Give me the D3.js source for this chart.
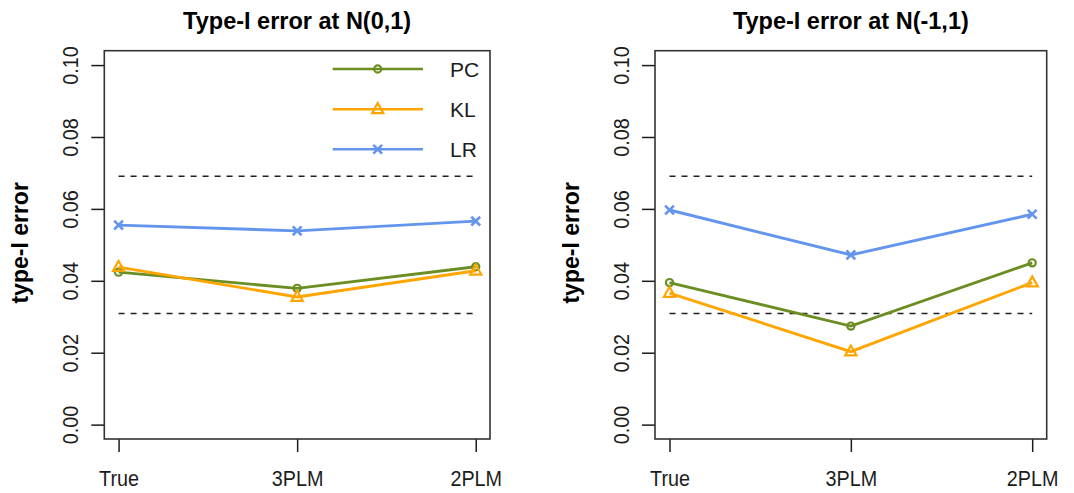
<!DOCTYPE html>
<html>
<head>
<meta charset="utf-8">
<script src="https://cdn.jsdelivr.net/npm/d3@7"></script>
<style>
  html, body { margin: 0; padding: 0; background: #fff; }
  svg { display: block; font-family: Arial, "Liberation Sans", sans-serif; }
</style>
</head>
<body>
<svg id="chart" width="1074" height="493"></svg>
<script>
// Estimating methods evaluated under three fitted models
const categories = ["True", "3PLM", "2PLM"];

// Type-I error under N(0,1)
const pcN01 = [0.0424, 0.0379, 0.0439];
const klN01 = [0.0438, 0.0355, 0.0428];
const lrN01 = [0.0555, 0.0539, 0.0566];

// Type-I error under N(-1,1)
const pcNm1 = [0.0395, 0.0274, 0.0450];
const klNm1 = [0.0366, 0.0203, 0.0395];
const lrNm1 = [0.0597, 0.0472, 0.0585];

// Acceptance band around the nominal 0.05 level
const bandLimits = [0.0309, 0.0691];

const yTicks = [0, 0.02, 0.04, 0.06, 0.08, 0.10];
const seriesNames = ["PC", "KL", "LR"];
const seriesColors = ["#6b8e23", "#ffa500", "#6495ed"];
const seriesShapes = ["circle", "triangle", "cross"];

const panels = [
  { title: "Type-I error at N(0,1)", left: 104.3, right: 490, values: [pcN01, klN01, lrN01], legend: true },
  { title: "Type-I error at N(-1,1)", left: 655, right: 1046.7, values: [pcNm1, klNm1, lrNm1], legend: false }
];

const plotTop = 50.7, plotBottom = 439;
const svg = d3.select("#chart");
const ink = "#1c1c1c";

function marker(g, shape, x, y, color) {
  if (shape === "circle") {
    g.append("circle").attr("cx", x).attr("cy", y).attr("r", 3.6)
      .attr("fill", "none").attr("stroke", color).attr("stroke-width", 2.2);
  } else if (shape === "triangle") {
    g.append("path")
      .attr("d", `M${x},${y - 6.2}L${x + 5.6},${y + 3.8}L${x - 5.6},${y + 3.8}Z`)
      .attr("fill", "none").attr("stroke", color).attr("stroke-width", 2.2)
      .attr("stroke-linejoin", "miter");
  } else {
    const s = 4.4;
    g.append("path")
      .attr("d", `M${x - s},${y - s}L${x + s},${y + s}M${x - s},${y + s}L${x + s},${y - s}`)
      .attr("fill", "none").attr("stroke", color).attr("stroke-width", 2.6);
  }
}

panels.forEach(p => {
  const g = svg.append("g");
  const x = d3.scaleLinear().domain([0.92, 3.08]).range([p.left, p.right]);
  const y = d3.scaleLinear().domain([-0.004, 0.104]).range([plotBottom, plotTop]);
  const idx = categories.map((c, i) => i + 1);

  // title
  g.append("text")
    .attr("x", (p.left + p.right) / 2).attr("y", 29)
    .attr("text-anchor", "middle")
    .attr("font-size", 23.5).attr("font-weight", "bold").attr("fill", "#000")
    .text(p.title);

  // y axis title
  g.append("text")
    .attr("transform", `translate(${p.left - 76},${(plotTop + plotBottom) / 2 - 2}) rotate(-90)`)
    .attr("text-anchor", "middle")
    .attr("font-size", 23).attr("font-weight", "bold").attr("fill", "#000")
    .text("type-I error");

  // y axis
  const ya = g.append("g").attr("transform", `translate(${p.left},0)`)
    .call(d3.axisLeft(y).tickValues(yTicks).tickFormat(d3.format(".2f")).tickSize(13).tickSizeOuter(0));
  ya.select(".domain").remove();
  ya.selectAll(".tick line").attr("stroke", ink).attr("stroke-width", 1.5);
  ya.selectAll(".tick text")
    .attr("x", null).attr("dy", null)
    .attr("transform", "translate(-26.5,0) rotate(-90) scale(0.9,1)")
    .attr("text-anchor", "middle")
    .attr("font-size", 22).attr("font-family", "Arial, 'Liberation Sans', sans-serif")
    .attr("fill", ink);

  // x axis
  const xa = g.append("g").attr("transform", `translate(0,${plotBottom})`)
    .call(d3.axisBottom(x).tickValues(idx).tickFormat((d, i) => categories[i]).tickSize(13).tickSizeOuter(0));
  xa.select(".domain").remove();
  xa.selectAll(".tick line").attr("stroke", ink).attr("stroke-width", 1.5);
  xa.selectAll(".tick text")
    .attr("y", null).attr("dy", null)
    .attr("transform", "translate(0,47) scale(0.9,1)")
    .attr("text-anchor", "middle")
    .attr("font-size", 22).attr("font-family", "Arial, 'Liberation Sans', sans-serif")
    .attr("fill", ink);

  // acceptance band
  bandLimits.forEach(b => {
    g.append("line")
      .attr("x1", x(1)).attr("x2", x(3)).attr("y1", y(b)).attr("y2", y(b))
      .attr("stroke", "#222").attr("stroke-width", 1.5).attr("stroke-dasharray", "6,6");
  });

  // series
  const line = d3.line().x((d, i) => x(i + 1)).y(d => y(d));
  p.values.forEach((vals, s) => {
    g.append("path").datum(vals).attr("d", line)
      .attr("fill", "none").attr("stroke", seriesColors[s]).attr("stroke-width", 2.9);
    vals.forEach((v, i) => marker(g, seriesShapes[s], x(i + 1), y(v), seriesColors[s]));
  });

  // plot frame
  g.append("rect")
    .attr("x", p.left).attr("y", plotTop).attr("width", p.right - p.left).attr("height", plotBottom - plotTop)
    .attr("fill", "none").attr("stroke", "#333").attr("stroke-width", 1.6);

  // legend
  if (p.legend) {
    const lg = g.append("g");
    const ly = [69, 109.3, 149.3];
    seriesNames.forEach((n, s) => {
      lg.append("line").attr("x1", 332.7).attr("x2", 423).attr("y1", ly[s]).attr("y2", ly[s])
        .attr("stroke", seriesColors[s]).attr("stroke-width", 2.6);
      marker(lg, seriesShapes[s], 377.7, ly[s], seriesColors[s]);
      lg.append("text").attr("x", 450).attr("y", ly[s] + 7.5)
        .attr("font-size", 21).attr("fill", ink).text(n);
    });
  }
});
</script>
</body>
</html>
